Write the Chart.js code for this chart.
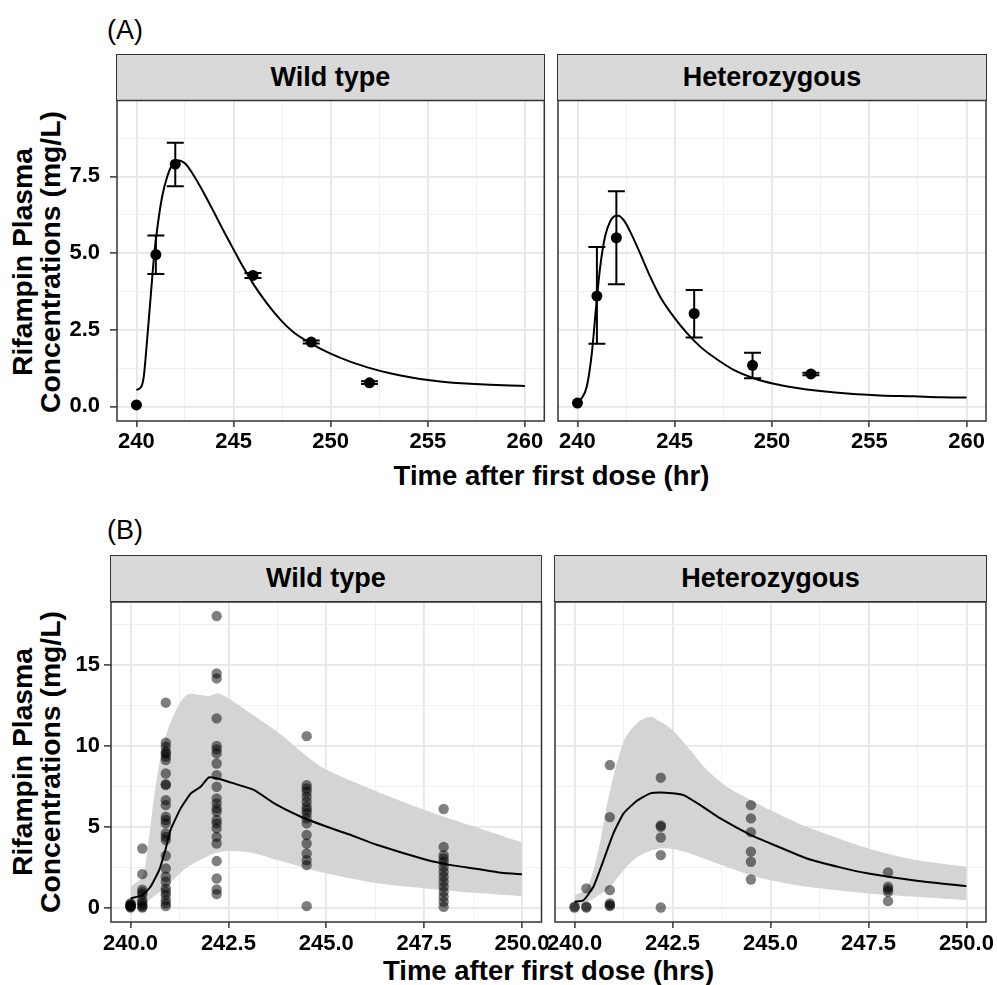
<!DOCTYPE html>
<html>
<head>
<meta charset="utf-8">
<script src="https://cdn.jsdelivr.net/npm/chart.js@4"></script>
<style>
  body { margin: 0; background: #fff; }
  #wrap { position: relative; width: 997px; height: 985px; overflow: hidden;
          font-family: 'Liberation Sans', Arial, sans-serif; color: #000; }
  canvas { position: absolute; left: 0; top: 0; }
  .strip { position: absolute; box-sizing: border-box; background: #D9D9D9; border: 1.5px solid #333;
           display: flex; align-items: center; justify-content: center; font-weight: bold; font-size: 27px; }
  .tag { position: absolute; font-size: 27px; line-height: 1; }
  .xt { position: absolute; width: 600px; text-align: center; font-weight: bold; font-size: 27.5px; line-height: 1; white-space: nowrap; }
  .yt { position: absolute; width: 400px; height: 56px; line-height: 28px; text-align: center;
        font-weight: bold; font-size: 28.3px; transform: rotate(-90deg); white-space: nowrap; }
</style>
</head>
<body>
<div id="wrap">
  <div class="tag" style="left:107px;top:17px">(A)</div>
  <div class="tag" style="left:107px;top:517px">(B)</div>

  <div class="strip" style="left:116px;top:54px;width:429px;height:47px">Wild type</div>
  <div class="strip" style="left:557px;top:54px;width:430px;height:47px">Heterozygous</div>
  <div class="strip" style="left:110px;top:555px;width:432px;height:47px">Wild type</div>
  <div class="strip" style="left:554px;top:555px;width:433px;height:47px">Heterozygous</div>

  <div class="yt" style="left:-163.8px;top:234px">Rifampin Plasma<br>Concentrations (mg/L)</div>
  <div class="yt" style="left:-163.8px;top:734px">Rifampin Plasma<br>Concentrations (mg/L)</div>
  <div class="xt" style="left:251.5px;top:461.7px">Time after first dose (hr)</div>
  <div class="xt" style="left:248.5px;top:956.7px">Time after first dose (hrs)</div>

  <canvas id="aWt" width="997" height="985"></canvas>
  <canvas id="aHet" width="997" height="985"></canvas>
  <canvas id="bWt" width="997" height="985"></canvas>
  <canvas id="bHet" width="997" height="985"></canvas>
</div>

<script>
// ---------- (A) observed means with error bars ----------
const obsTimeA = [240, 241, 242, 246, 249, 252]
const wtObsA = [0.05, 4.95, 7.9, 4.27, 2.1, 0.77]
const wtLowA = [null, 4.32, 7.18, 4.19, 2.05, 0.73]
const wtHighA = [null, 5.57, 8.6, 4.35, 2.15, 0.82]
const hetObsA = [0.11, 3.6, 5.5, 3.03, 1.34, 1.06]
const hetLowA = [null, 2.04, 3.98, 2.25, 0.92, 1.02]
const hetHighA = [null, 5.2, 7.02, 3.8, 1.75, 1.1]

// ---------- (A) model curves ----------
const wtCurveTimeA = [240.0, 240.24, 240.38, 240.55, 240.72, 240.89, 241.06, 241.32, 241.58, 241.83, 242.18,
  242.52, 242.95, 243.46, 243.98, 244.49, 245.0, 245.52, 246.03, 246.72, 247.4, 248.09, 249.0, 249.97,
  251.0, 252.03, 253.06, 254.09, 255.12, 256.14, 257.17, 258.2, 259.23, 260.0]
const wtCurveA = [0.54, 0.63, 0.98, 2.17, 3.47, 4.77, 5.74, 6.83, 7.48, 7.86, 8.02,
  7.91, 7.53, 6.97, 6.35, 5.72, 5.12, 4.52, 3.98, 3.36, 2.84, 2.42, 2.05, 1.73,
  1.46, 1.25, 1.08, 0.95, 0.85, 0.78, 0.74, 0.71, 0.685, 0.67]
const hetCurveTimeA = [240.0, 240.22, 240.48, 240.74, 240.96, 241.17, 241.42, 241.68, 241.94, 242.11, 242.37,
  242.71, 243.22, 243.74, 244.25, 244.94, 245.63, 246.31, 247.0, 248.03, 249.06, 250.09, 251.11,
  252.49, 254.03, 255.57, 257.29, 258.66, 260.0]
const hetCurveA = [0.16, 0.27, 0.65, 1.74, 3.26, 4.56, 5.54, 6.03, 6.21, 6.22, 6.08,
  5.7, 4.99, 4.23, 3.58, 2.93, 2.39, 1.95, 1.61, 1.19, 0.92, 0.74, 0.62,
  0.5, 0.41, 0.36, 0.33, 0.3, 0.29]

// ---------- (B) individual observations ----------
const sampleTimeB = [240.0, 240.3, 240.9, 242.2, 244.5, 248.0]
const wtConcB = [
  [0, 0.05, 0.1, 0.15, 0.2, 0.1, 0.05, 0.25],
  [3.65, 2.06, 1.1, 0.95, 0.8, 0.45, 0.3, 0.15, 0.05, 0],
  [12.67, 10.19, 9.94, 9.63, 9.53, 9.33, 9.12, 8.29, 7.63, 7.57, 6.64, 6.33, 5.61, 5.41, 5.2, 4.58, 4.37, 4.17,
   3.2, 2.41, 1.9, 1.59, 1.18, 0.97, 0.76, 0.45, 0.25, 0.08],
  [18.03, 14.48, 14.17, 11.7, 9.99, 9.78, 9.53, 8.91, 8.19, 7.47, 6.75, 6.44, 6.13, 5.92, 5.41, 5.2, 4.89, 4.37,
   3.96, 2.87, 1.79, 1.11, 0.83],
  [10.6, 7.57, 7.37, 7.16, 6.85, 6.54, 6.23, 6.02, 5.82, 5.51, 5.2, 4.48, 3.96, 3.34, 2.93, 2.62, 0.08],
  [6.09, 3.75, 3.24, 3.03, 2.83, 2.52, 2.21, 1.9, 1.59, 1.28, 0.97, 0.66, 0.35, 0.04]
]
const hetConcB = [
  [0, 0.05],
  [1.18, 0.05, 0],
  [8.81, 5.59, 1.07, 0.25, 0.15, 0.08],
  [8.03, 5.08, 4.99, 4.33, 3.24, 0],
  [6.33, 5.51, 4.66, 3.45, 2.83, 1.73],
  [2.17, 1.28, 1.13, 0.97, 0.39]
]

// ---------- (B) prediction band and median ----------
const wtBandTimeB = [240.0, 240.3, 240.43, 240.6, 240.77, 240.98, 241.28, 241.49, 241.79, 242.0, 242.22, 242.5,
  243.07, 243.75, 244.52, 245.02, 246.31, 247.53, 248.79, 250.0]
const wtUpperB = [1.28, 1.9, 3.55, 6.85, 9.33, 11.18, 12.73, 13.2, 13.14, 13.08, 13.25, 12.94,
  12.0, 10.87, 9.33, 8.5, 7.16, 6.02, 4.99, 4.02]
const wtLowerB = [0.04, 0.25, 0.4, 0.7, 1.0, 1.45, 2.15, 2.55, 2.95, 3.2, 3.4, 3.49,
  3.4, 2.93, 2.4, 2.1, 1.49, 1.18, 0.91, 0.7]
const wtMedTimeB = [240.0, 240.3, 240.51, 240.73, 240.9, 241.02, 241.28, 241.54, 241.79, 242.0, 242.22, 242.5,
  243.16, 243.67, 244.35, 245.02, 245.63, 246.31, 247.53, 248.19, 248.79, 249.47, 250.0]
const wtMedB = [0.56, 0.76, 1.28, 2.31, 3.65, 4.79, 6.13, 7.06, 7.47, 8.05, 7.98, 7.78,
  7.26, 6.44, 5.61, 4.99, 4.48, 3.86, 2.97, 2.62, 2.41, 2.15, 2.06]

const hetBandTimeB = [240.0, 240.31, 240.61, 240.87, 241.25, 241.59, 241.93, 242.19, 242.5, 242.95, 243.38,
  243.89, 244.5, 245.0, 245.93, 247.5, 248.73, 250.0]
const hetUpperB = [0.76, 1.18, 3.55, 6.85, 10.25, 11.39, 11.8, 11.49, 10.98, 9.74, 8.5,
  7.47, 6.64, 6.02, 4.99, 3.65, 2.93, 2.52]
const hetLowerB = [0.04, 0.28, 0.75, 1.15, 2.31, 3.1, 3.5, 3.65, 3.61, 3.34, 2.95,
  2.5, 2.0, 1.69, 1.28, 0.87, 0.66, 0.45]
const hetMedTimeB = [240.0, 240.23, 240.48, 240.74, 240.99, 241.25, 241.59, 241.93, 242.2, 242.5, 242.78,
  243.21, 243.72, 244.5, 245.0, 245.93, 246.78, 247.5, 248.73, 250.0]
const hetMedB = [0.35, 0.45, 1.28, 2.93, 4.58, 5.82, 6.6, 7.06, 7.12, 7.06, 6.95,
  6.33, 5.51, 4.48, 3.96, 3.03, 2.48, 2.1, 1.65, 1.32]

// ---------- axes ----------
const xTicksA = [240, 245, 250, 255, 260]
const yTicksA = [0, 2.5, 5, 7.5]
const xTicksB = [240, 242.5, 245, 247.5, 250]
const yTicksB = [0, 5, 10, 15]

const FONT = "'Liberation Sans', Arial, sans-serif"
const W = 997, H = 985

const zip = (xs, ys) => xs.map((x, i) => ({ x, y: ys[i] }))
const scatterFrom = (times, lists) =>
  times.flatMap((t, i) => lists[i].map((v) => ({ x: t, y: v })))

function withMinors(majors, min, max) {
  const step = majors[1] - majors[0]
  const out = [...majors]
  for (let v = majors[0] - step / 2; v <= majors[majors.length - 1] + step; v += step) {
    if (v > min && v < max) out.push(v)
  }
  return out.sort((a, b) => a - b)
}
const isMajor = (majors, v) => majors.some((m) => Math.abs(m - v) < 1e-6)

function axis(majors, min, max, opt) {
  const all = withMinors(majors, min, max)
  return {
    type: 'linear',
    min,
    max,
    afterBuildTicks: (s) => { s.ticks = all.map((v) => ({ value: v })) },
    afterFit: (s) => {
      if (opt.horizontal) s.height = 45
      else s.width = opt.size
      s.paddingLeft = 0; s.paddingRight = 0; s.paddingTop = 0; s.paddingBottom = 0
    },
    ticks: {
      display: opt.labels,
      autoSkip: false,
      maxRotation: 0,
      minRotation: 0,
      padding: opt.padding,
      color: '#000',
      font: { family: FONT, size: 22, weight: 'bold' },
      callback: (v) => (isMajor(majors, v) ? v.toFixed(opt.digits) : ''),
    },
    grid: {
      drawTicks: opt.labels,
      tickLength: opt.tick,
      tickWidth: 1.5,
      color: (c) => (c.tick && isMajor(majors, c.tick.value) ? '#E6E6E6' : '#F0F0F0'),
      lineWidth: (c) => (c.tick && isMajor(majors, c.tick.value) ? 1.8 : 1),
      tickColor: (c) => (c.tick && isMajor(majors, c.tick.value) ? '#333333' : 'rgba(0,0,0,0)'),
    },
    border: { display: false },
  }
}

const frame = {
  id: 'frame',
  afterDraw(chart) {
    const { ctx, chartArea: a } = chart
    ctx.save()
    ctx.strokeStyle = '#333333'
    ctx.lineWidth = 1.5
    ctx.strokeRect(a.left, a.top, a.right - a.left, a.bottom - a.top)
    ctx.restore()
  },
}

const errorBars = {
  id: 'errorBars',
  afterDatasetsDraw(chart, args, opts) {
    if (!opts || !opts.x) return
    const { ctx, scales: { x, y } } = chart
    ctx.save()
    ctx.strokeStyle = '#000'
    ctx.lineWidth = 2
    opts.x.forEach((t, i) => {
      if (opts.low[i] == null) return
      const px = x.getPixelForValue(t)
      const lo = y.getPixelForValue(opts.low[i])
      const hi = y.getPixelForValue(opts.high[i])
      ctx.beginPath()
      ctx.moveTo(px - 8.5, hi); ctx.lineTo(px + 8.5, hi)
      ctx.moveTo(px, hi); ctx.lineTo(px, lo)
      ctx.moveTo(px - 8.5, lo); ctx.lineTo(px + 8.5, lo)
      ctx.stroke()
    })
    ctx.restore()
  },
}

function panel(id, area, xAxis, yAxis, yWidth, datasets, bars) {
  return new Chart(document.getElementById(id), {
    type: 'scatter',
    data: { datasets },
    options: {
      responsive: false,
      animation: false,
      devicePixelRatio: 1,
      layout: {
        autoPadding: false,
        padding: { left: area.l - yWidth, top: area.t, right: W - area.r, bottom: H - area.b - 45 },
      },
      scales: { x: xAxis, y: yAxis },
      plugins: { legend: { display: false }, tooltip: { enabled: false }, errorBars: bars || {} },
    },
    plugins: [errorBars, frame],
  })
}

const curve = (data) => ({
  data, showLine: true, borderColor: '#000', borderWidth: 2, pointRadius: 0,
  cubicInterpolationMode: 'monotone', fill: false,
})
const obsPoints = (data) => ({ data, pointRadius: 5.5, backgroundColor: '#000', borderWidth: 0 })

// (A) Wild type
panel('aWt', { l: 117, t: 100.5, r: 544.3, b: 421 },
  axis(xTicksA, 239, 261, { horizontal: true, labels: true, digits: 0, tick: 6, padding: 2 }),
  axis(yTicksA, -0.475, 9.975, { size: 60, labels: true, digits: 1, tick: 7, padding: 10 }),
  60,
  [obsPoints(zip(obsTimeA, wtObsA)), curve(zip(wtCurveTimeA, wtCurveA))],
  { x: obsTimeA, low: wtLowA, high: wtHighA })

// (A) Heterozygous
panel('aHet', { l: 558, t: 100.5, r: 986, b: 421 },
  axis(xTicksA, 239, 261, { horizontal: true, labels: true, digits: 0, tick: 6, padding: 2 }),
  axis(yTicksA, -0.475, 9.975, { size: 0, labels: false, digits: 1, tick: 0, padding: 0 }),
  0,
  [obsPoints(zip(obsTimeA, hetObsA)), curve(zip(hetCurveTimeA, hetCurveA))],
  { x: obsTimeA, low: hetLowA, high: hetHighA })

function bPanel(id, area, yWidth, yOpt, conc, bandT, lower, upper, medT, med) {
  return panel(id, area,
    axis(xTicksB, 239.5, 250.5, { horizontal: true, labels: true, digits: 1, tick: 6, padding: 3 }),
    axis(yTicksB, -0.9, 18.9, yOpt),
    yWidth,
    [
      { data: scatterFrom(sampleTimeB, conc), pointRadius: 5.2, backgroundColor: 'rgba(0,0,0,0.5)', borderWidth: 0 },
      { data: zip(medT, med), showLine: true, borderColor: '#000', borderWidth: 2, pointRadius: 0, tension: 0.15, fill: false },
      { data: zip(bandT, lower), showLine: true, borderWidth: 0, borderColor: 'rgba(0,0,0,0)', pointRadius: 0, tension: 0.3, fill: false },
      { data: zip(bandT, upper), showLine: true, borderWidth: 0, borderColor: 'rgba(0,0,0,0)', pointRadius: 0, tension: 0.3, fill: '-1', backgroundColor: '#D4D4D4' },
    ])
}

bPanel('bWt', { l: 111, t: 602, r: 541.5, b: 922 }, 60,
  { size: 60, labels: true, digits: 0, tick: 7, padding: 4 },
  wtConcB, wtBandTimeB, wtLowerB, wtUpperB, wtMedTimeB, wtMedB)

bPanel('bHet', { l: 555, t: 602, r: 986, b: 922 }, 0,
  { size: 0, labels: false, digits: 0, tick: 0, padding: 0 },
  hetConcB, hetBandTimeB, hetLowerB, hetUpperB, hetMedTimeB, hetMedB)
</script>
</body>
</html>
